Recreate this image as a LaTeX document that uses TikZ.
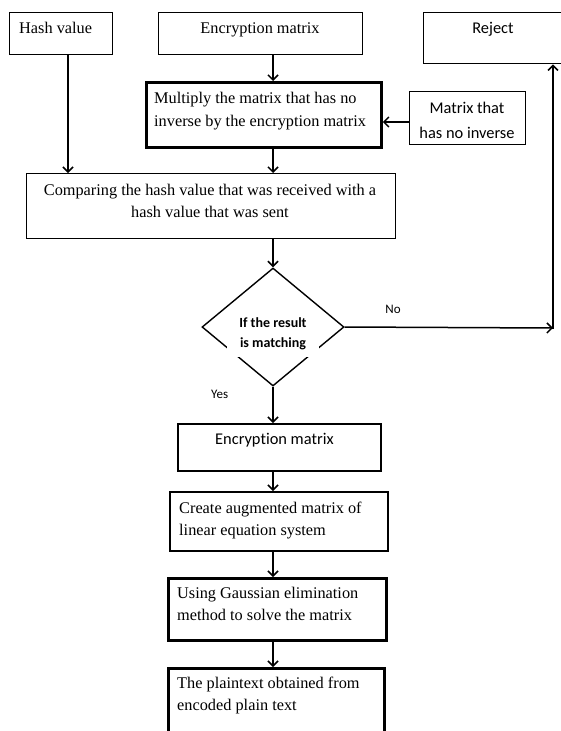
\documentclass[tikz,border=0pt]{standalone}
\usepackage{fontspec}
\setmainfont{Liberation Serif}
\newfontfamily\calfont[Ligatures=NoCommon]{Carlito}
\usetikzlibrary{shapes.geometric,arrows.meta,calc}
\tikzset{
  box/.style={draw, line width=1.4pt, inner sep=0pt, anchor=north west},
  thickbox/.style={box, line width=2.8pt},
  serif/.style={inner sep=0pt, font=\fontsize{16.3}{22}\selectfont},
  sans/.style={inner sep=0pt, font=\calfont\fontsize{16.4}{25}\selectfont},
  arr/.style={line width=1.5pt, -{Straight Barb[length=5pt,width=10pt]}},
  lbl/.style={inner sep=0pt, font=\calfont\fontsize{13}{15}\selectfont},
}
\begin{document}
\begin{tikzpicture}[x=1pt,y=-1pt]
\useasboundingbox[fill=white] (0,0) rectangle (560,731);
% coordinates for connector lines
\coordinate (cx) at (273,0);
\coordinate (hx) at (68,0);
\coordinate (my) at (0,122);
\coordinate (cr) at (553,328);
% boxes
\node[box, minimum width=103pt, minimum height=42pt] (hash) at (9,12) {};
\node[box, minimum width=204pt, minimum height=42pt] (enc1) at (158,12) {};
\node[box, minimum width=180pt, minimum height=51pt] (rej) at (423,12) {};
\node[thickbox, minimum width=235pt, minimum height=65pt] (mult) at (145,81) {};
\node[box, minimum width=116pt, minimum height=53pt] (minv) at (409,91) {};
\node[box, minimum width=369pt, minimum height=65pt] (comp) at (26,173) {};
\node[draw, diamond, line width=1.4pt, inner sep=0pt, minimum width=142pt, minimum height=118pt] (dec) at (273,327) {};
\node[box, line width=2pt, minimum width=203pt, minimum height=47pt] (enc2) at (177,423) {};
\node[box, line width=2pt, minimum width=218pt, minimum height=59pt] (creat) at (169,491) {};
\node[thickbox, minimum width=218pt, minimum height=62pt] (gauss) at (167,577) {};
\node[thickbox, minimum width=216pt, minimum height=80pt] (plain) at (167,667) {};
% texts
\node[serif, anchor=base west] (thash) at (19,33) {Hash value};
\node[serif, anchor=base] (tenc1) at (260,33) {Encryption matrix};
\node[sans, anchor=base] (trej) at (493,33) {Reject};
\node[serif, anchor=base west] (tmult) at (154,103) {\begin{tabular}[t]{@{}l@{}}Multiply the matrix that has no\\[1pt] inverse by the encryption matrix\end{tabular}};
\node[sans, anchor=base] (tminv) at (467,113) {\begin{tabular}[t]{@{}c@{}}Matrix that\\ has no inverse\end{tabular}};
\node[serif, anchor=base] (tcomp) at (210,195) {\begin{tabular}[t]{@{}c@{}}Comparing the hash value that was received with a\\ hash value that was sent\end{tabular}};
\node[fill=white, inner xsep=0pt, inner ysep=4pt, minimum width=92pt, anchor=base, font=\calfont\bfseries\fontsize{14}{20}\selectfont] (tdec) at (273,327) {\begin{tabular}[t]{@{}c@{}}If the result\\ is matching\end{tabular}};
\node[sans, anchor=base west] (tenc2) at (215,444) {Encryption matrix};
\node[serif, anchor=base west] (tcreat) at (179,513) {\begin{tabular}[t]{@{}l@{}}Create augmented matrix of\\ linear equation system\end{tabular}};
\node[serif, anchor=base west] (tgauss) at (177,598) {\begin{tabular}[t]{@{}l@{}}Using Gaussian elimination\\ method to solve the matrix\end{tabular}};
\node[serif, anchor=base west] (tplain) at (177,688) {\begin{tabular}[t]{@{}l@{}}The plaintext obtained from\\ encoded plain text\end{tabular}};
\node[lbl, anchor=base] (lno) at (393,313) {No};
\node[lbl, anchor=base west] (lyes) at (211,398) {Yes};
% connectors
\draw[arr] (hash.south -| hx) -- (comp.north -| hx);
\draw[arr] (enc1.south -| cx) -- (mult.north -| cx);
\draw[arr] (minv.west |- my) -- (mult.east |- my);
\draw[arr] (mult.south -| cx) -- (comp.north -| cx);
\draw[arr] (comp.south -| cx) -- (dec.north);
\draw[arr] (dec.east) -- (cr);
\draw[arr] ([yshift=-1pt]cr) -- (cr |- rej.south);
\draw[arr] (dec.south) -- (enc2.north -| cx);
\draw[arr] (enc2.south -| cx) -- (creat.north -| cx);
\draw[arr] (creat.south -| cx) -- (gauss.north -| cx);
\draw[arr] (gauss.south -| cx) -- (plain.north -| cx);
\end{tikzpicture}
\end{document}
